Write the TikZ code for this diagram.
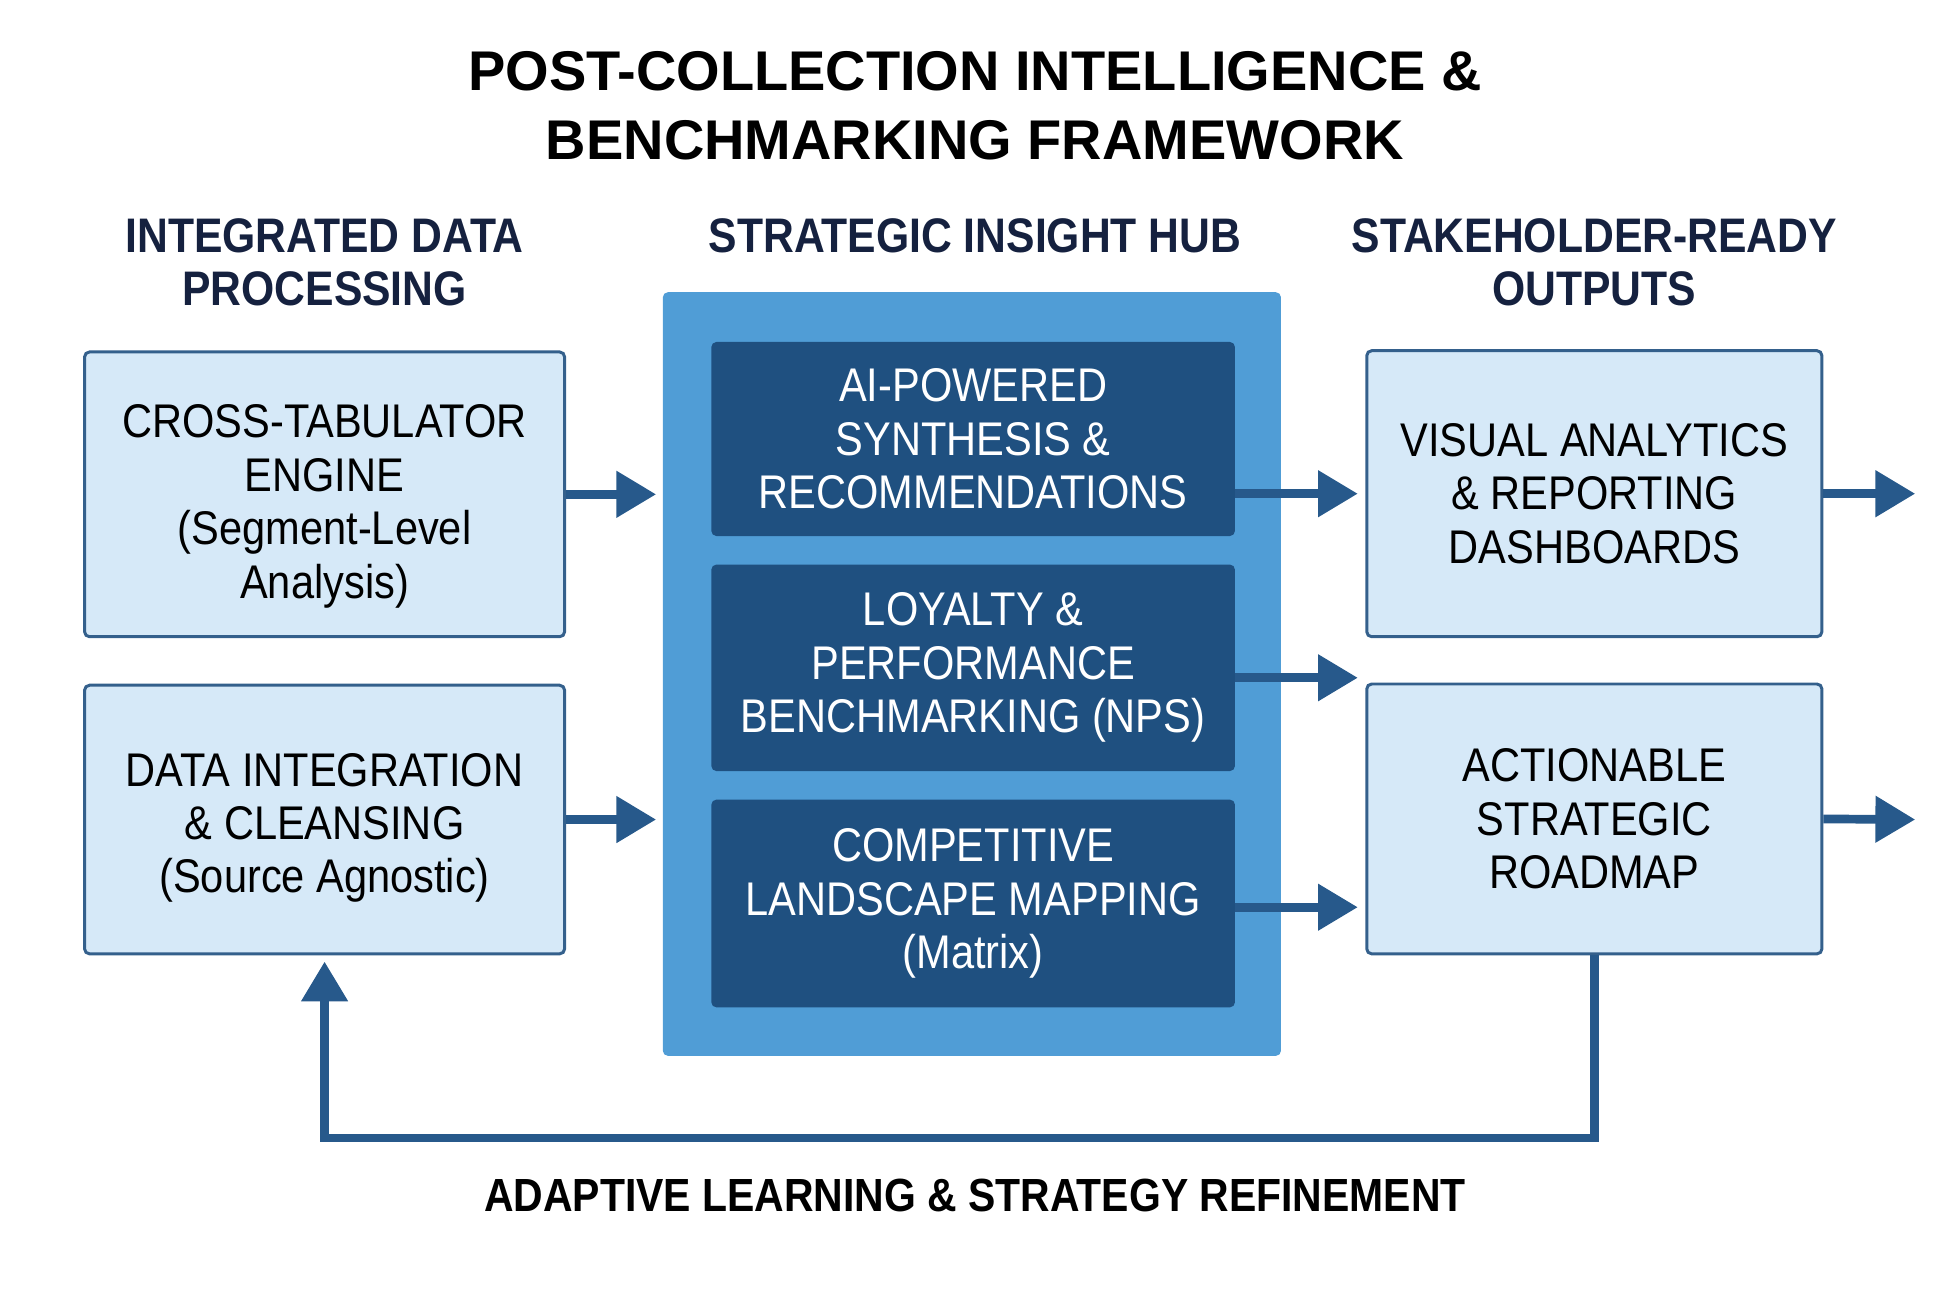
\documentclass[tikz,border=0pt]{standalone}
\usepackage{fontspec}
\setmainfont[FakeStretch=0.88]{Liberation Sans}
\newfontfamily\titlefont{Liberation Sans}
\usetikzlibrary{arrows.meta}
\definecolor{hubblue}{HTML}{509DD6}
\definecolor{innerblue}{HTML}{1F5080}
\definecolor{paleblue}{HTML}{D6E9F8}
\definecolor{edgeblue}{HTML}{34608C}
\definecolor{flowblue}{HTML}{27598B}
\definecolor{headnavy}{HTML}{15213F}
\begin{document}
\begin{tikzpicture}[x=0.5pt, y=-0.5pt,
  lbox/.style={draw=edgeblue, line width=1.2pt, fill=paleblue, rounded corners=2pt, align=center, text=black, font=\fontsize{19}{21.5}\selectfont},
  ibox/.style={fill=innerblue, rounded corners=2pt, align=center, minimum width=210.5pt, text=white, font=\fontsize{19}{21.5}\selectfont},
  head/.style={align=center, text=headnavy, font=\bfseries\fontsize{19.5}{21}\selectfont},
  flow/.style={draw=flowblue, line width=3.5pt, -{Triangle[length=16pt, width=18pt]}}]
    \useasboundingbox (0,0) rectangle (1568,1053);
    \node[align=center, font=\titlefont\bfseries\fontsize{22.5}{28}\selectfont] (title) at (784, 85) {POST-COLLECTION INTELLIGENCE \&\\BENCHMARKING FRAMEWORK};
    \node[head] (h1) at (261, 211) {INTEGRATED DATA\\PROCESSING};
    \node[head] (h2) at (784, 190) {STRATEGIC INSIGHT HUB};
    \node[head] (h3) at (1282, 211) {STAKEHOLDER-READY\\OUTPUTS};

    \node[lbox, minimum width=193pt, minimum height=114.5pt] at (261, 397.5) (xtab) {\rule{0pt}{23pt}CROSS-TABULATOR\\ENGINE\\(Segment-Level\\Analysis)};
    \node[lbox, minimum width=193pt, minimum height=108pt] at (261, 659) (integ) {\rule{0pt}{20pt}DATA INTEGRATION\\\& CLEANSING\\(Source Agnostic)};
    \node[fill=hubblue, rounded corners=2pt, minimum width=248.5pt, minimum height=307pt] at (781.5, 542) (hub) {};
    \node[ibox, minimum height=78pt] at (782.5, 353) (ai) {AI-POWERED\\SYNTHESIS \&\\RECOMMENDATIONS};
    \node[ibox, minimum height=83pt] at (782.5, 537) (loyal) {LOYALTY \&\\PERFORMANCE\\BENCHMARKING (NPS)};
    \node[ibox, minimum height=83.5pt] at (782.5, 726.5) (comp) {COMPETITIVE\\LANDSCAPE MAPPING\\(Matrix)};
    \node[lbox, minimum width=183pt, minimum height=115pt] at (1282, 397) (visual) {VISUAL ANALYTICS\\\& REPORTING\\DASHBOARDS};
    \node[lbox, minimum width=183pt, minimum height=108.5pt] at (1282, 658.5) (road) {ACTIONABLE\\STRATEGIC\\ROADMAP};
    \coordinate (out1) at (1540, 397);
    \coordinate (out2) at (1540, 659);
    \coordinate (fb) at (1282, 915);

    \draw[flow, shorten >=2.5pt] (xtab.east) -- (xtab.east -| hub.west);
    \draw[flow, shorten >=2.5pt] (integ.east) -- (integ.east -| hub.west);
    \draw[flow, shorten >=3pt] (ai.east |- visual.west) -- (visual.west);
    \draw[flow, shorten >=3pt] ([yshift=-4pt]loyal.east) -- ([yshift=-4pt]loyal.east -| road.west);
    \draw[flow, shorten >=3pt] ([yshift=-1.5pt]comp.east) -- ([yshift=-1.5pt]comp.east -| road.west);
    \draw[flow] (visual.east) -- (out1);
    \draw[flow] (road.east) -- (out2);
    \draw[flow, shorten >=2.5pt] (road.south) -- (fb) -| (integ.south);
    \node[font=\bfseries\fontsize{18.7}{21}\selectfont] (loop) at (784, 961) {ADAPTIVE LEARNING \& STRATEGY REFINEMENT};
  \end{tikzpicture}
\end{document}
